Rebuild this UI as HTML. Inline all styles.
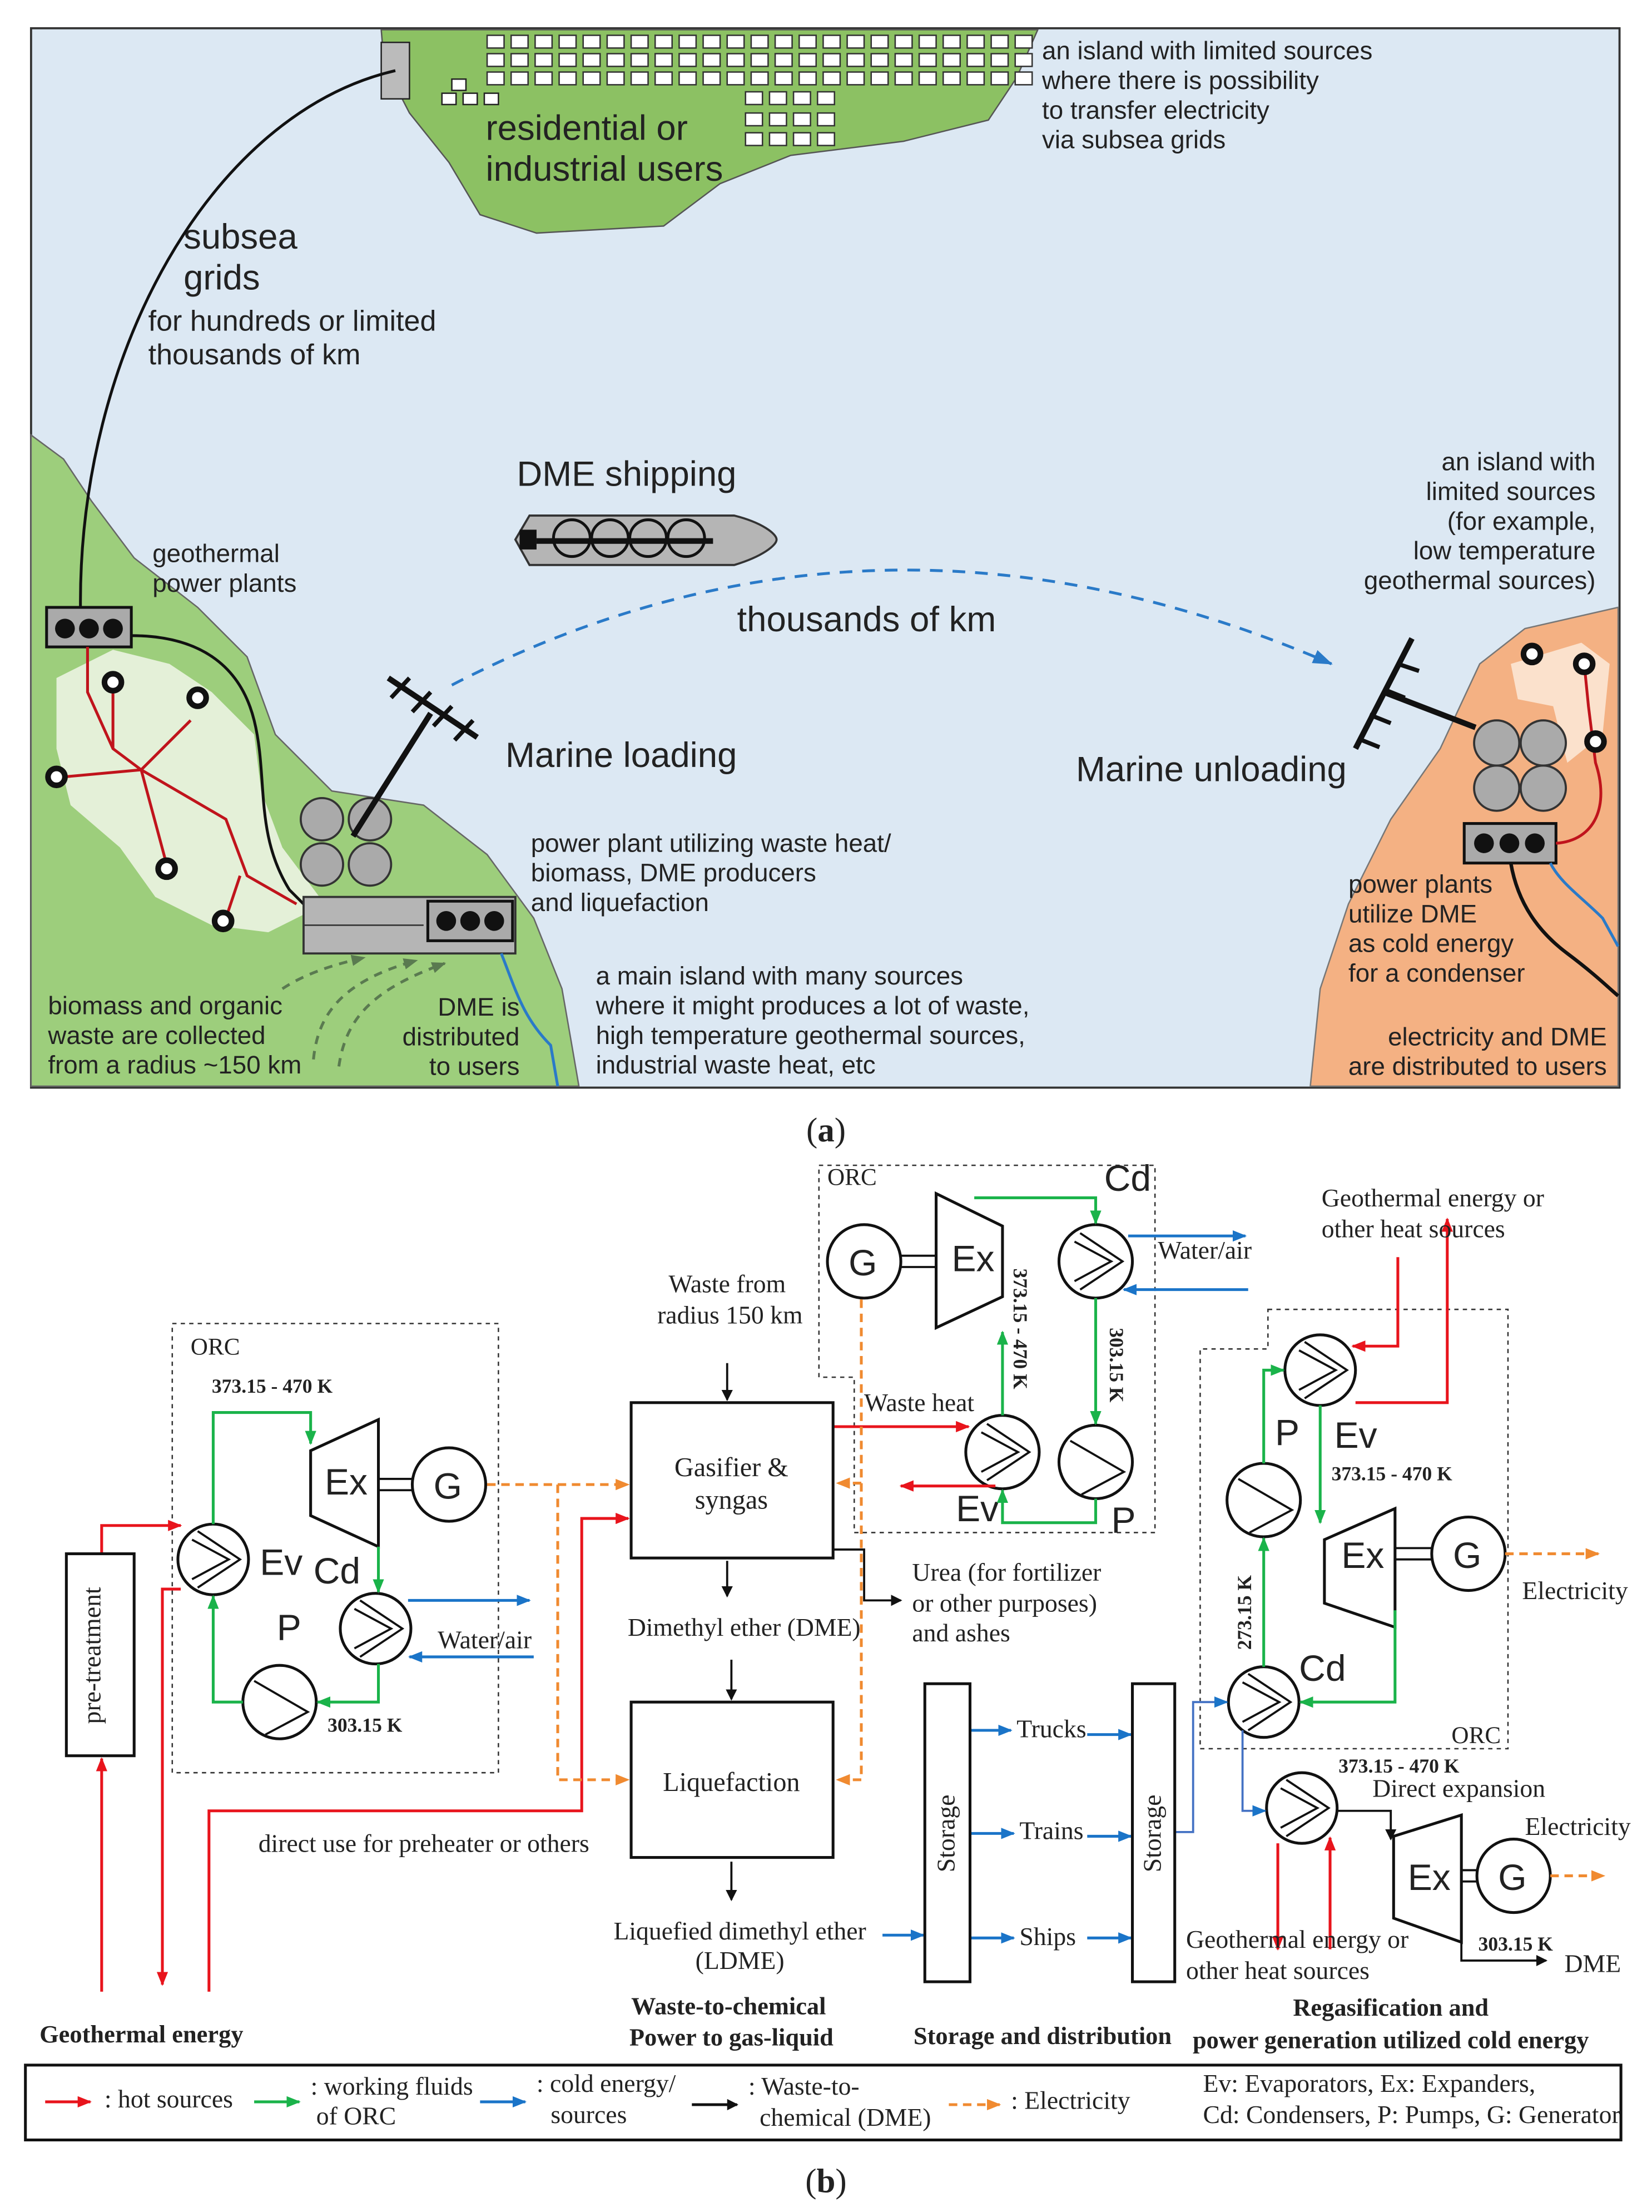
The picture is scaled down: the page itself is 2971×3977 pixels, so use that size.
<!DOCTYPE html>
<html><head><meta charset="utf-8"><style>
html,body{margin:0;padding:0;background:#fff}
svg{display:block}
.s{font-family:"Liberation Sans",sans-serif;fill:#222}
.r{font-family:"Liberation Serif",serif;fill:#222}
</style></head><body>
<svg width="2971" height="3977" viewBox="0 0 1170 1566" preserveAspectRatio="none" xmlns="http://www.w3.org/2000/svg">
<defs>
<marker id="ak" markerWidth="8" markerHeight="8" refX="7" refY="4" orient="auto" markerUnits="userSpaceOnUse"><path d="M0,0L8,4L0,8z" fill="#111"/></marker>
<marker id="ar" markerWidth="10" markerHeight="8" refX="9" refY="4" orient="auto" markerUnits="userSpaceOnUse"><path d="M0,0L10,4L0,8z" fill="#e8141c"/></marker>
<marker id="ag" markerWidth="10" markerHeight="8" refX="9" refY="4" orient="auto" markerUnits="userSpaceOnUse"><path d="M0,0L10,4L0,8z" fill="#1ab34a"/></marker>
<marker id="ab" markerWidth="10" markerHeight="8" refX="9" refY="4" orient="auto" markerUnits="userSpaceOnUse"><path d="M0,0L10,4L0,8z" fill="#1a74c8"/></marker>
<marker id="ao" markerWidth="10" markerHeight="8" refX="9" refY="4" orient="auto" markerUnits="userSpaceOnUse"><path d="M0,0L10,4L0,8z" fill="#f08a30"/></marker>
<marker id="ad" markerWidth="14" markerHeight="10" refX="13" refY="5" orient="auto" markerUnits="userSpaceOnUse"><path d="M0,0L14,5L0,10z" fill="#2a7ac8"/></marker>
<marker id="agr" markerWidth="10" markerHeight="8" refX="9" refY="4" orient="auto" markerUnits="userSpaceOnUse"><path d="M0,0L10,4L0,8z" fill="#5a7a50"/></marker>
</defs>
<rect width="1170" height="1566" fill="#fff"/>
<!-- PANEL A -->
<rect x="22" y="20" width="1125" height="750" fill="#dce8f3" stroke="#333" stroke-width="1.5"/>
<path d="M270,21 L735,21 L720,55 L700,85 L640,100 L560,110 L510,130 L470,160 L380,165 L340,152 L318,115 L290,80 L272,45 Z" fill="#8cc163" stroke="#555"/>
<g fill="#fff" stroke="#222" stroke-width="1">
<rect x="270" y="30" width="20" height="40" fill="#bbb"/>
<rect x="313" y="66" width="10" height="8"/><rect x="328" y="66" width="10" height="8"/><rect x="343" y="66" width="10" height="8"/><rect x="320" y="56" width="10" height="8"/>
</g>
<g id="bl" fill="#fff" stroke="#333" stroke-width="1">
<rect x="345" y="25" width="12" height="9"/><rect x="362" y="25" width="12" height="9"/><rect x="379" y="25" width="12" height="9"/><rect x="396" y="25" width="12" height="9"/><rect x="413" y="25" width="12" height="9"/><rect x="430" y="25" width="12" height="9"/><rect x="447" y="25" width="12" height="9"/><rect x="464" y="25" width="12" height="9"/><rect x="481" y="25" width="12" height="9"/><rect x="498" y="25" width="12" height="9"/><rect x="515" y="25" width="12" height="9"/><rect x="532" y="25" width="12" height="9"/><rect x="549" y="25" width="12" height="9"/><rect x="566" y="25" width="12" height="9"/><rect x="583" y="25" width="12" height="9"/><rect x="600" y="25" width="12" height="9"/><rect x="617" y="25" width="12" height="9"/><rect x="634" y="25" width="12" height="9"/><rect x="651" y="25" width="12" height="9"/><rect x="668" y="25" width="12" height="9"/><rect x="685" y="25" width="12" height="9"/><rect x="702" y="25" width="12" height="9"/><rect x="719" y="25" width="12" height="9"/>
</g>
<use href="#bl" y="13"/><use href="#bl" y="26"/>
<g fill="#fff" stroke="#333">
<rect x="528" y="65" width="12" height="9"/><rect x="545" y="65" width="12" height="9"/><rect x="562" y="65" width="12" height="9"/><rect x="579" y="65" width="12" height="9"/>
<rect x="528" y="80" width="12" height="9"/><rect x="545" y="80" width="12" height="9"/><rect x="562" y="80" width="12" height="9"/><rect x="579" y="80" width="12" height="9"/>
<rect x="528" y="94" width="12" height="9"/><rect x="545" y="94" width="12" height="9"/><rect x="562" y="94" width="12" height="9"/><rect x="579" y="94" width="12" height="9"/>
</g>
<text class="s" x="344" y="99" font-size="25">residential or</text>
<text class="s" x="344" y="128" font-size="25">industrial users</text>
<text class="s" x="738" y="42" font-size="18">an island with limited sources</text>
<text class="s" x="738" y="63" font-size="18">where there is possibility</text>
<text class="s" x="738" y="84" font-size="18">to transfer electricity</text>
<text class="s" x="738" y="105" font-size="18">via subsea grids</text>
<text class="s" x="130" y="176" font-size="25">subsea</text>
<text class="s" x="130" y="205" font-size="25">grids</text>
<text class="s" x="105" y="234" font-size="20.5">for hundreds or limited</text>
<text class="s" x="105" y="258" font-size="20.5">thousands of km</text>
<!-- left land -->
<path d="M22,308 L45,325 L65,355 L95,395 L140,430 L175,465 L195,520 L235,560 L300,570 L345,605 L378,650 L398,700 L405,740 L410,769 L22,769 Z" fill="#9dce7c" stroke="#666"/>
<path d="M40,480 L80,460 L120,470 L150,490 L180,520 L185,560 L200,600 L230,640 L190,660 L150,655 L110,635 L85,600 L50,570 L40,530 Z" fill="#e4f0d8"/>
<path d="M280,50 C150,80 55,250 57,432" fill="none" stroke="#111" stroke-width="2"/>
<text class="s" x="108" y="398" font-size="18">geothermal</text>
<text class="s" x="108" y="419" font-size="18">power plants</text>
<rect x="33" y="430" width="60" height="28" fill="#aaa" stroke="#111" stroke-width="2"/>
<circle cx="46" cy="445" r="7" fill="#111"/><circle cx="63" cy="445" r="7" fill="#111"/><circle cx="80" cy="445" r="7" fill="#111"/>
<path d="M93,450 C140,450 170,470 180,510 C190,550 180,590 205,630 L215,640" fill="none" stroke="#111" stroke-width="2"/>
<g fill="none" stroke="#c0141c" stroke-width="2">
<path d="M62,458 L62,490 L80,530 L100,545 L135,510"/>
<path d="M100,545 L45,550"/>
<path d="M100,545 L118,612"/>
<path d="M100,545 L160,580 L175,620 L210,640"/>
<path d="M80,485 L80,530"/>
<path d="M160,650 L170,620"/>
</g>
<g fill="#fff" stroke="#111" stroke-width="4"><circle cx="80" cy="483" r="6"/><circle cx="140" cy="494" r="6"/><circle cx="40" cy="550" r="6"/><circle cx="118" cy="615" r="6"/><circle cx="158" cy="652" r="6"/></g>
<g fill="#aaa" stroke="#333" stroke-width="1.5"><circle cx="228" cy="580" r="15"/><circle cx="262" cy="580" r="15"/><circle cx="228" cy="612" r="15"/><circle cx="262" cy="612" r="15"/></g>
<rect x="215" y="635" width="150" height="40" fill="#b5b5b5" stroke="#333" stroke-width="1.5"/>
<line x1="215" y1="655" x2="300" y2="655" stroke="#333"/>
<rect x="303" y="638" width="60" height="28" fill="#aaa" stroke="#111" stroke-width="2"/>
<circle cx="316" cy="652" r="7" fill="#111"/><circle cx="333" cy="652" r="7" fill="#111"/><circle cx="350" cy="652" r="7" fill="#111"/>
<path d="M250,592 L305,505" stroke="#111" stroke-width="4"/>
<path d="M275,480 L338,522" stroke="#111" stroke-width="4"/>
<g stroke="#111" stroke-width="3"><line x1="277" y1="494" x2="290" y2="480"/><line x1="292" y1="504" x2="305" y2="490"/><line x1="307" y1="514" x2="320" y2="500"/><line x1="322" y1="524" x2="335" y2="510"/></g>
<text class="s" x="358" y="543" font-size="25">Marine loading</text>
<path d="M365,382 L375,365 L520,365 C540,370 550,378 550,382 C550,386 540,394 520,400 L375,400 Z" fill="#b5b5b5" stroke="#333" stroke-width="1.5"/>
<rect x="368" y="375" width="12" height="14" fill="#111"/>
<line x1="380" y1="383" x2="505" y2="383" stroke="#111" stroke-width="4"/>
<g fill="none" stroke="#111" stroke-width="2"><circle cx="405" cy="381" r="13"/><circle cx="432" cy="381" r="13"/><circle cx="459" cy="381" r="13"/><circle cx="486" cy="381" r="13"/></g>
<text class="s" x="366" y="344" font-size="25">DME shipping</text>
<path d="M320,485 Q620,330 943,470" fill="none" stroke="#2a7ac8" stroke-width="2" stroke-dasharray="9,7" marker-end="url(#ad)"/>
<text class="s" x="522" y="447" font-size="25">thousands of km</text>
<g fill="none" stroke="#5a7a50" stroke-width="2" stroke-dasharray="6,5">
<path d="M200,700 C215,690 235,683 258,678" marker-end="url(#agr)"/>
<path d="M222,750 C225,720 240,695 295,680" marker-end="url(#agr)"/>
<path d="M240,755 C245,720 265,700 315,682" marker-end="url(#agr)"/>
</g>
<path d="M355,675 C365,700 370,720 390,740 L395,769" fill="none" stroke="#2a7ac8" stroke-width="2"/>
<text class="s" x="376" y="603" font-size="18">power plant utilizing waste heat/</text>
<text class="s" x="376" y="624" font-size="18">biomass, DME producers</text>
<text class="s" x="376" y="645" font-size="18">and liquefaction</text>
<text class="s" x="422" y="697" font-size="18">a main island with many sources</text>
<text class="s" x="422" y="718" font-size="18">where it might produces a lot of waste,</text>
<text class="s" x="422" y="739" font-size="18">high temperature geothermal sources,</text>
<text class="s" x="422" y="760" font-size="18">industrial waste heat, etc</text>
<text class="s" x="34" y="718" font-size="18">biomass and organic</text>
<text class="s" x="34" y="739" font-size="18">waste are collected</text>
<text class="s" x="34" y="760" font-size="18">from a radius ~150 km</text>
<text class="s" x="368" y="719" font-size="18" text-anchor="end">DME is</text>
<text class="s" x="368" y="740" font-size="18" text-anchor="end">distributed</text>
<text class="s" x="368" y="761" font-size="18" text-anchor="end">to users</text>
<!-- right island -->
<path d="M928,769 L935,700 L955,640 L985,580 L1020,530 L1048,470 L1080,445 L1146,430 L1146,769 Z" fill="#f4b183" stroke="#777"/>
<path d="M1070,470 L1120,455 L1140,470 L1135,520 L1110,540 L1100,500 L1075,495 Z" fill="#fbe1cc"/>
<text class="s" x="1130" y="333" font-size="18" text-anchor="end">an island with</text>
<text class="s" x="1130" y="354" font-size="18" text-anchor="end">limited sources</text>
<text class="s" x="1130" y="375" font-size="18" text-anchor="end">(for example,</text>
<text class="s" x="1130" y="396" font-size="18" text-anchor="end">low temperature</text>
<text class="s" x="1130" y="417" font-size="18" text-anchor="end">geothermal sources)</text>
<g stroke="#111" stroke-width="4"><line x1="1000" y1="452" x2="960" y2="530"/><line x1="980" y1="490" x2="1045" y2="515"/></g>
<g stroke="#111" stroke-width="3"><line x1="990" y1="470" x2="1005" y2="475"/><line x1="980" y1="488" x2="995" y2="494"/><line x1="970" y1="506" x2="985" y2="512"/><line x1="962" y1="523" x2="977" y2="529"/></g>
<text class="s" x="762" y="553" font-size="25">Marine unloading</text>
<g fill="#aaa" stroke="#333" stroke-width="1.5"><circle cx="1060" cy="526" r="16"/><circle cx="1093" cy="526" r="16"/><circle cx="1060" cy="558" r="16"/><circle cx="1093" cy="558" r="16"/></g>
<rect x="1037" y="583" width="65" height="28" fill="#aaa" stroke="#111" stroke-width="2"/>
<circle cx="1051" cy="597" r="7" fill="#111"/><circle cx="1069" cy="597" r="7" fill="#111"/><circle cx="1087" cy="597" r="7" fill="#111"/>
<path d="M1102,597 C1130,595 1140,570 1130,540 L1125,500 L1122,470" fill="none" stroke="#c0141c" stroke-width="2"/>
<g fill="#fff" stroke="#111" stroke-width="4"><circle cx="1085" cy="463" r="6"/><circle cx="1122" cy="470" r="6"/><circle cx="1130" cy="525" r="6"/></g>
<path d="M1070,611 C1075,640 1090,660 1110,675 C1130,690 1140,700 1146,705" fill="none" stroke="#111" stroke-width="2.5"/>
<path d="M1098,611 C1105,625 1120,635 1135,650 L1146,670" fill="none" stroke="#2a7ac8" stroke-width="2"/>
<text class="s" x="955" y="632" font-size="18">power plants</text>
<text class="s" x="955" y="653" font-size="18">utilize DME</text>
<text class="s" x="955" y="674" font-size="18">as cold energy</text>
<text class="s" x="955" y="695" font-size="18">for a condenser</text>
<text class="s" x="1138" y="740" font-size="18" text-anchor="end">electricity and DME</text>
<text class="s" x="1138" y="761" font-size="18" text-anchor="end">are distributed to users</text>
<text class="r" x="585" y="808" font-size="24" text-anchor="middle">(<tspan font-weight="bold">a</tspan>)</text>

<!-- PANEL B -->
<g fill="none" stroke="#333" stroke-width="1" stroke-dasharray="3,3">
<rect x="122" y="937" width="231" height="318"/>
<path d="M580,825 L818,825 L818,1085 L605,1085 L605,975 L580,975 Z"/>
<path d="M898,927 L1068,927 L1068,1238 L850,1238 L850,955 L898,955 Z"/>
</g>
<g class="r" font-size="17">
<text x="135" y="959">ORC</text>
<text x="586" y="839">ORC</text>
<text x="1028" y="1234">ORC</text>
</g>
<g fill="#fff" stroke="#111" stroke-width="2">
<circle cx="151" cy="1104" r="25"/><circle cx="266" cy="1153" r="25"/><circle cx="198" cy="1205" r="26"/><circle cx="318" cy="1051" r="26"/>
<path d="M220,1027 L268,1005 L268,1095 L220,1073 Z"/>
<circle cx="612" cy="893" r="26"/><circle cx="776" cy="893" r="26"/><circle cx="710" cy="1028" r="26"/><circle cx="776" cy="1035" r="26"/>
<path d="M663,845 L710,868 L710,918 L663,940 Z"/>
<circle cx="935" cy="970" r="25"/><circle cx="895" cy="1062" r="26"/><circle cx="895" cy="1205" r="25"/><circle cx="1040" cy="1100" r="26"/>
<path d="M938,1090 L988,1068 L988,1152 L938,1135 Z"/>
<circle cx="922" cy="1280" r="25"/><circle cx="1072" cy="1328" r="26"/>
<path d="M987,1300 L1035,1285 L1035,1375 L987,1358 Z"/>
</g>
<g fill="none" stroke="#111" stroke-width="1.5">
<path d="M136,1090 L162,1104 L136,1118 M140,1084 L170,1104 L140,1124"/>
<path d="M251,1139 L277,1153 L251,1167 M255,1133 L285,1153 L255,1173"/>
<path d="M180,1190 L218,1212 L188,1228"/>
<path d="M761,879 L787,893 L761,907 M765,873 L795,893 L765,913"/>
<path d="M695,1014 L721,1028 L695,1042 M699,1008 L729,1028 L699,1048"/>
<path d="M758,1020 L796,1042 L766,1058"/>
<path d="M920,956 L946,970 L920,984 M924,950 L954,970 L924,990"/>
<path d="M877,1047 L915,1069 L885,1085"/>
<path d="M880,1191 L906,1205 L880,1219 M884,1185 L914,1205 L884,1225"/>
<path d="M907,1266 L933,1280 L907,1294 M911,1260 L941,1280 L911,1300"/>
<path d="M268,1047 L292,1047 M268,1055 L292,1055"/>
<path d="M638,889 L663,889 M638,897 L663,897"/>
<path d="M988,1096 L1014,1096 M988,1104 L1014,1104"/>
<path d="M1035,1324 L1046,1324 M1035,1332 L1046,1332"/>
</g>
<g class="s" font-size="26">
<text x="230" y="1058">Ex</text><text x="307" y="1061">G</text>
<text x="184" y="1115">Ev</text><text x="222" y="1121">Cd</text><text x="196" y="1161">P</text>
<text x="674" y="900">Ex</text><text x="601" y="903">G</text><text x="782" y="843">Cd</text>
<text x="677" y="1077">Ev</text><text x="787" y="1085">P</text>
<text x="950" y="1110">Ex</text><text x="1029" y="1110">G</text>
<text x="903" y="1023">P</text><text x="945" y="1025">Ev</text><text x="920" y="1190">Cd</text>
<text x="997" y="1338">Ex</text><text x="1061" y="1338">G</text>
</g>
<g fill="none" stroke="#1ab34a" stroke-width="2">
<path d="M151,1079 L151,1000 L220,1000 L220,1022" marker-end="url(#ag)"/>
<path d="M268,1095 L268,1127" marker-end="url(#ag)"/>
<path d="M268,1178 L268,1205 L225,1205" marker-end="url(#ag)"/>
<path d="M172,1205 L151,1205 L151,1130" marker-end="url(#ag)"/>
<path d="M690,848 L776,848 L776,866" marker-end="url(#ag)"/>
<path d="M776,919 L776,1008" marker-end="url(#ag)"/>
<path d="M776,1061 L776,1078 L710,1078 L710,1055" marker-end="url(#ag)"/>
<path d="M710,1002 L710,943" marker-end="url(#ag)"/>
<path d="M935,995 L935,1078" marker-end="url(#ag)"/>
<path d="M988,1140 L988,1205 L921,1205" marker-end="url(#ag)"/>
<path d="M895,1180 L895,1089" marker-end="url(#ag)"/>
<path d="M895,1036 L895,970 L909,970" marker-end="url(#ag)"/>
</g>
<g fill="none" stroke="#1a74c8" stroke-width="2">
<path d="M289,1133 L375,1133" marker-end="url(#ab)"/>
<path d="M378,1173 L290,1173" marker-end="url(#ab)"/>
<path d="M799,875 L882,875" marker-end="url(#ab)"/>
<path d="M884,913 L796,913" marker-end="url(#ab)"/>
<path d="M687,1225 L716,1225" marker-end="url(#ab)"/>
<path d="M770,1228 L801,1228" marker-end="url(#ab)"/>
<path d="M687,1298 L718,1298" marker-end="url(#ab)"/>
<path d="M770,1300 L801,1300" marker-end="url(#ab)"/>
<path d="M687,1372 L718,1372" marker-end="url(#ab)"/>
<path d="M770,1372 L801,1372" marker-end="url(#ab)"/>
<path d="M625,1370 L654,1370" marker-end="url(#ab)"/>
</g>
<g fill="none" stroke="#4472c4" stroke-width="1.5">
<path d="M832,1297 L845,1297 L845,1205 L869,1205" marker-end="url(#ab)"/>
<path d="M880,1225 L880,1282 L896,1282" marker-end="url(#ab)"/>
</g>
<g fill="none" stroke="#e8141c" stroke-width="2">
<path d="M72,1410 L72,1245" marker-end="url(#ar)"/>
<path d="M72,1100 L72,1080 L128,1080" marker-end="url(#ar)"/>
<path d="M128,1125 L115,1125 L115,1405" marker-end="url(#ar)"/>
<path d="M148,1410 L148,1282 L412,1282 L412,1075 L445,1075" marker-end="url(#ar)"/>
<path d="M590,1010 L686,1010" marker-end="url(#ar)"/>
<path d="M705,1052 L638,1052" marker-end="url(#ar)"/>
<path d="M990,890 L990,953 L958,953" marker-end="url(#ar)"/>
<path d="M960,993 L1025,993 L1025,863" marker-end="url(#ar)"/>
<path d="M905,1305 L905,1380" marker-end="url(#ar)"/>
<path d="M942,1380 L942,1301" marker-end="url(#ar)"/>
</g>
<g fill="none" stroke="#f08a30" stroke-width="2" stroke-dasharray="6,4">
<path d="M345,1051 L445,1051" marker-end="url(#ao)"/>
<path d="M395,1051 L395,1260 L445,1260" marker-end="url(#ao)"/>
<path d="M610,920 L610,1260 L593,1260" marker-end="url(#ao)"/>
<path d="M610,1050 L593,1050" marker-end="url(#ao)"/>
<path d="M1066,1100 L1132,1100" marker-end="url(#ao)"/>
<path d="M1098,1328 L1136,1328" marker-end="url(#ao)"/>
</g>
<g fill="none" stroke="#111" stroke-width="1.5">
<rect x="47" y="1100" width="48" height="143" stroke-width="2"/>
<rect x="447" y="993" width="143" height="110" stroke-width="2"/>
<rect x="447" y="1205" width="143" height="110" stroke-width="2"/>
<rect x="655" y="1192" width="32" height="211" stroke-width="2"/>
<rect x="802" y="1192" width="30" height="211" stroke-width="2"/>
<path d="M515,965 L515,991" marker-end="url(#ak)"/>
<path d="M515,1105 L515,1130" marker-end="url(#ak)"/>
<path d="M518,1175 L518,1203" marker-end="url(#ak)"/>
<path d="M518,1318 L518,1345" marker-end="url(#ak)"/>
<path d="M590,1097 L612,1097 L612,1133 L638,1133" marker-end="url(#ak)"/>
<path d="M947,1282 L985,1282 L985,1302" marker-end="url(#ak)"/>
<path d="M1035,1362 L1035,1388 L1095,1388" marker-end="url(#ak)"/>
</g>
<g class="r" font-size="18">
<text x="71" y="1172" transform="rotate(-90 71 1172)" text-anchor="middle">pre-treatment</text>
<text x="676" y="1298" transform="rotate(-90 676 1298)" text-anchor="middle">Storage</text>
<text x="822" y="1298" transform="rotate(-90 822 1298)" text-anchor="middle">Storage</text>
<text x="518" y="1045" text-anchor="middle" font-size="19">Gasifier &amp;</text>
<text x="518" y="1068" text-anchor="middle" font-size="19">syngas</text>
<text x="518" y="1268" text-anchor="middle" font-size="19">Liquefaction</text>
<text x="515" y="915" text-anchor="middle">Waste from</text>
<text x="517" y="937" text-anchor="middle">radius 150 km</text>
<text x="527" y="1158" text-anchor="middle">Dimethyl ether (DME)</text>
<text x="524" y="1373" text-anchor="middle">Liquefied dimethyl ether</text>
<text x="524" y="1394" text-anchor="middle">(LDME)</text>
<text x="646" y="1119">Urea (for fortilizer</text>
<text x="646" y="1141">or other purposes)</text>
<text x="646" y="1162">and ashes</text>
<text x="310" y="1167">Water/air</text>
<text x="820" y="891">Water/air</text>
<text x="612" y="999">Waste heat</text>
<text x="183" y="1311">direct use for preheater or others</text>
<text x="720" y="1230">Trucks</text>
<text x="722" y="1302">Trains</text>
<text x="722" y="1377">Ships</text>
<text x="936" y="854">Geothermal energy or</text>
<text x="936" y="876">other heat sources</text>
<text x="1078" y="1132">Electricity</text>
<text x="1080" y="1299">Electricity</text>
<text x="972" y="1272">Direct expansion</text>
<text x="840" y="1379">Geothermal energy or</text>
<text x="840" y="1401">other heat sources</text>
<text x="1108" y="1396">DME</text>
</g>
<g class="r" font-size="14" font-weight="bold">
<text x="150" y="986">373.15 - 470 K</text>
<text x="232" y="1226">303.15 K</text>
<text x="943" y="1048">373.15 - 470 K</text>
<text x="948" y="1255">373.15 - 470 K</text>
<text x="1047" y="1381">303.15 K</text>
<text x="718" y="898" transform="rotate(90 718 898)">373.15 - 470 K</text>
<text x="786" y="940" transform="rotate(90 786 940)">303.15 K</text>
<text x="886" y="1168" transform="rotate(-90 886 1168)">273.15 K</text>
</g>
<g class="r" font-size="17.5" font-weight="bold">
<text x="28" y="1446">Geothermal energy</text>
<text x="516" y="1426" text-anchor="middle">Waste-to-chemical</text>
<text x="518" y="1448" text-anchor="middle">Power to gas-liquid</text>
<text x="647" y="1447">Storage and distribution</text>
<text x="985" y="1427" text-anchor="middle">Regasification and</text>
<text x="985" y="1450" text-anchor="middle">power generation utilized cold energy</text>
</g>
<rect x="18" y="1462" width="1130" height="53" fill="none" stroke="#111" stroke-width="2"/>
<path d="M32,1488 L64,1488" stroke="#e8141c" stroke-width="2" marker-end="url(#ar)"/>
<path d="M180,1488 L212,1488" stroke="#1ab34a" stroke-width="2" marker-end="url(#ag)"/>
<path d="M340,1488 L372,1488" stroke="#1a74c8" stroke-width="2" marker-end="url(#ab)"/>
<path d="M490,1490 L522,1490" stroke="#111" stroke-width="2" marker-end="url(#ak)"/>
<path d="M672,1490 L708,1490" stroke="#f08a30" stroke-width="2" stroke-dasharray="6,4" marker-end="url(#ao)"/>
<g class="r" font-size="18">
<text x="74" y="1492">: hot sources</text>
<text x="220" y="1483">: working fluids</text>
<text x="224" y="1504">of ORC</text>
<text x="380" y="1481">: cold energy/</text>
<text x="390" y="1503">sources</text>
<text x="530" y="1483">: Waste-to-</text>
<text x="538" y="1505">chemical (DME)</text>
<text x="716" y="1493">: Electricity</text>
<text x="852" y="1481">Ev: Evaporators, Ex: Expanders,</text>
<text x="852" y="1503">Cd: Condensers, P: Pumps, G: Generator</text>
</g>
<text class="r" x="585" y="1552" font-size="24" text-anchor="middle">(<tspan font-weight="bold">b</tspan>)</text>
</svg>
</body></html>
